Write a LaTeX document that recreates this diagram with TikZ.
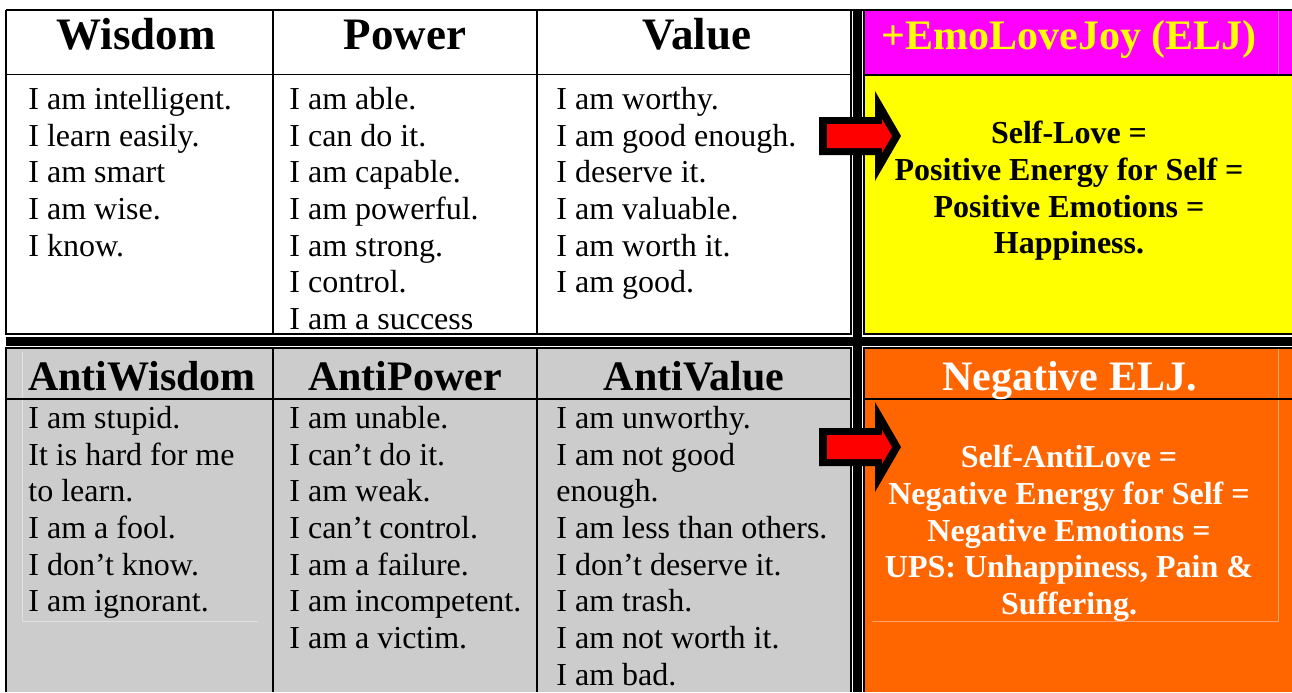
\documentclass[tikz,border=0pt]{standalone}
\usepackage{fontspec}
\setmainfont{Liberation Serif}
\definecolor{eljmagenta}{HTML}{FF00FF}
\definecolor{eljyellow}{HTML}{FFFF00}
\definecolor{eljgray}{HTML}{CCCCCC}
\definecolor{eljorange}{HTML}{FF6600}
\definecolor{eljred}{HTML}{FF0000}

\tikzset{
    thinrule/.style={line width=0.9pt},
    thickrule/.style={line width=4.4pt},
    faintrule/.style={line width=0.5pt},
    headtext/.style={anchor=base, inner sep=0pt, font=\bfseries\fontsize{21}{24}\selectfont},
    tophead/.style={headtext, font=\bfseries\fontsize{22.5}{26}\selectfont},
    celltext/.style={anchor=north west, inner sep=0pt, align=left, font=\fontsize{16}{18.33}\selectfont},
    eljtext/.style={anchor=north, inner sep=0pt, align=center, font=\bfseries\fontsize{16}{18.33}\selectfont},
}

\begin{document}
\begin{tikzpicture}[x=0.5pt, y=-0.5pt]
            \useasboundingbox (0,0) rectangle (1292,692);

            % Cell colours
            \fill[eljmagenta] (864,10) rectangle (1292,75);
            \fill[eljyellow] (864,75) rectangle (1292,334);
            \fill[eljgray] (6,348) rectangle (851,692);
            \fill[eljorange] (864,348) rectangle (1292,692);

            % faint text frames
            \draw[faintrule, white!88!black] (22,352) -- (22,621) -- (258,621);
            \draw[faintrule, eljorange!60!white] (1278,349) -- (1278,621) -- (872,621);
            \draw[faintrule, eljmagenta!60!white] (1278,11) -- (1278,74);

            % Top half: Wisdom / Power / Value
            \draw[thinrule] (6,10) -- (1292,10);
            \draw[thinrule] (6,10) -- (6,334) -- (851,334) -- (851,10);
            \draw[thinrule] (6,74.5) -- (851,74.5);
            \draw[thinrule] (273,10) -- (273,334);
            \draw[thinrule] (537,10) -- (537,334);
            \draw[thinrule] (1292,334) -- (864,334) -- (864,10);
            \draw[thinrule] (864,75) -- (1292,75);

            % Bottom half: AntiWisdom / AntiPower / AntiValue
            \draw[thinrule] (6,692) -- (6,348) -- (851,348) -- (851,692);
            \draw[thinrule] (6,399) -- (851,399);
            \draw[thinrule] (273,348) -- (273,692);
            \draw[thinrule] (537,348) -- (537,692);
            \draw[thinrule] (1292,348) -- (864,348) -- (864,692);
            \draw[thinrule] (864,399) -- (1292,399);

            % double rules between the halves
            \draw[thickrule] (857.5,10) -- (857.5,692);
            \draw[thickrule] (6,341.5) -- (1292,341.5);

            % headings
            \node[tophead] (wisdom) at (136,49) {Wisdom};
            \node[tophead] (power) at (405,49) {Power};
            \node[tophead] (value) at (697,49) {Value};
            \node[headtext, text=eljyellow] (elj) at (1069,49) {+EmoLoveJoy (ELJ)};
            \node[headtext] (antiwisdom) at (142,390) {AntiWisdom};
            \node[headtext] (antipower) at (405,390) {AntiPower};
            \node[headtext] (antivalue) at (694,390) {AntiValue};
            \node[headtext, text=white] (negelj) at (1069.5,390) {Negative ELJ.};

            % statements
            \node[celltext] (wisdomlist) at (28,87) {I am intelligent.\\ I learn easily.\\ I am smart\\ I am wise.\\ I know.};
            \node[celltext] (powerlist) at (289,87) {I am able.\\ I can do it.\\ I am capable.\\ I am powerful.\\ I am strong.\\ I control.\\ I am a success};
            \node[celltext] (valuelist) at (556,87) {I am worthy.\\ I am good enough.\\ I deserve it.\\ I am valuable.\\ I am worth it.\\ I am good.};
            \node[celltext] (antiwisdomlist) at (28,406) {I am stupid.\\ It is hard for me\\ to learn.\\ I am a fool.\\ I don’t know.\\ I am ignorant.};
            \node[celltext] (antipowerlist) at (289,406) {I am unable.\\ I can’t do it.\\ I am weak.\\ I can’t control.\\ I am a failure.\\ I am incompetent.\\ I am a victim.};
            \node[celltext] (antivaluelist) at (556,406) {I am unworthy.\\ I am not good\\ enough.\\ I am less than others.\\ I don’t deserve it.\\ I am trash.\\ I am not worth it.\\ I am bad.};

            % ELJ results
            \node[eljtext] (selflove) at (1069,121) {Self-Love =\\ Positive Energy for Self =\\ Positive Emotions =\\ Happiness.};
            \node[eljtext, text=white] (selfantilove) at (1069,445) {Self-AntiLove =\\ Negative Energy for Self =\\ Negative Emotions =\\ UPS: Unhappiness, Pain \&\\ Suffering.};

            % arrows into the ELJ column
            \begin{scope}[shift={(0,0)}]
                \fill[black] (819,117) -- (875,117) -- (875,91) -- (901,136) -- (875,181) -- (875,155) -- (819,155) -- cycle;
                \fill[eljred] (827,124) -- (882,124) -- (882,119) -- (892,136) -- (882,153) -- (882,148) -- (827,148) -- cycle;
            \end{scope}
            \begin{scope}[shift={(0,311)}]
                \fill[black] (819,117) -- (875,117) -- (875,91) -- (901,136) -- (875,181) -- (875,155) -- (819,155) -- cycle;
                \fill[eljred] (827,124) -- (882,124) -- (882,119) -- (892,136) -- (882,153) -- (882,148) -- (827,148) -- cycle;
            \end{scope}
        \end{tikzpicture}
\end{document}
